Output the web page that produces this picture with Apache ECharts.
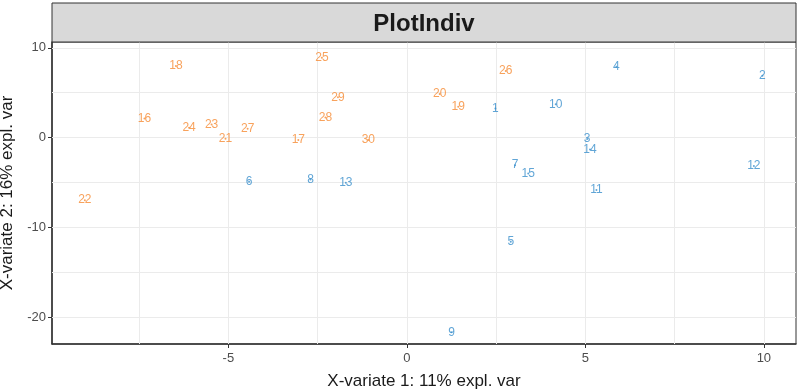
<!DOCTYPE html>
<html>
<head>
<meta charset="utf-8">
<script src="https://cdn.jsdelivr.net/npm/echarts@6/dist/echarts.min.js"></script>
<style>
  html, body { margin: 0; padding: 0; background: #fff; }
  #plotIndiv { width: 800px; height: 392px; }
</style>
</head>
<body>
<div id="plotIndiv"></div>
<script>
// group 1 (blue), samples 1-15
var blueLabels = ["1", "2", "3", "4", "5", "6", "7", "8", "9", "10", "11", "12", "13", "14", "15"];
var blueX = [2.48, 9.96, 5.05, 5.87, 2.91, -4.42, 3.03, -2.70, 1.25, 4.17, 5.31, 9.72, -1.71, 5.13, 3.40];
var blueY = [3.25, 6.89, -0.17, 7.89, -11.6, -4.93, -3.07, -4.66, -21.7, 3.70, -5.85, -3.18, -5.04, -1.32, -3.99];

// group 2 (orange), samples 16-30
var orangeLabels = ["16", "17", "18", "19", "20", "21", "22", "23", "24", "25", "26", "27", "28", "29", "30"];
var orangeX = [-7.35, -3.04, -6.47, 1.44, 0.92, -5.08, -9.02, -5.47, -6.10, -2.38, 2.77, -4.46, -2.28, -1.93, -1.08];
var orangeY = [2.14, -0.28, 7.97, 3.43, 4.85, -0.13, -6.97, 1.47, 1.09, 8.9, 7.41, 0.98, 2.25, 4.48, -0.28];

// axis ticks / grid
var xTicks = [-5, 0, 5, 10];
var yTicks = [-20, -10, 0, 10];
var xGrid = [-7.5, -5, -2.5, 0, 2.5, 5, 7.5, 10];
var yGrid = [-20, -15, -10, -5, 0, 5, 10];

function makePoints(xs, ys, labels) {
  let arr = [];
  for (var i = 0; i < xs.length; i++) {
    arr.push({ value: [xs[i], ys[i]], name: labels[i] });
  }
  return arr;
}

function labelSeries(data, color) {
  return {
    type: "scatter",
    data: data,
    symbol: "circle",
    symbolSize: 2,
    itemStyle: { color: color, opacity: 0.8 },
    label: {
      show: true,
      position: "inside",
      formatter: "{b}",
      color: color,
      fontSize: 12,
      fontFamily: "Liberation Sans"
    },
    silent: true,
    z: 5
  };
}

let gridLines = [];
xGrid.forEach(function(v) { gridLines.push({ xAxis: v }); });
yGrid.forEach(function(v) { gridLines.push({ yAxis: v }); });

let myChart = echarts.init(document.getElementById("plotIndiv"), null, { renderer: "canvas" });
let option = {
  animation: false,
  backgroundColor: "#ffffff",
  textStyle: { fontFamily: "Liberation Sans" },
  grid: {
    left: 52,
    right: 4,
    top: 42,
    bottom: 48,
    containLabel: false,
    outerBoundsMode: "none",
    show: true,
    backgroundColor: "#ffffff",
    borderColor: "#333333",
    borderWidth: 1
  },
  graphic: [
    {
      type: "rect",
      shape: { x: 52, y: 3, width: 744, height: 39 },
      style: { fill: "#d9d9d9", stroke: "#333333", lineWidth: 1 },
      z: 10
    },
    {
      type: "text",
      x: 424,
      y: 24,
      style: {
        text: "PlotIndiv",
        fill: "#1a1a1a",
        font: "bold 24px Liberation Sans",
        align: "center",
        verticalAlign: "middle"
      },
      z: 11
    }
  ],
  xAxis: {
    type: "value",
    min: -9.94,
    max: 10.9,
    name: "X-variate 1: 11% expl. var",
    nameLocation: "middle",
    nameGap: 29,
    nameTextStyle: { color: "#1a1a1a", fontSize: 17, fontFamily: "Liberation Sans" },
    axisLine: { show: true, onZero: false, lineStyle: { color: "#333333", width: 1.5 } },
    axisTick: { show: true, length: 4, customValues: xTicks, lineStyle: { color: "#333333" } },
    axisLabel: { customValues: xTicks, color: "#4d4d4d", fontSize: 13, margin: 8 },
    splitLine: { show: false }
  },
  yAxis: {
    type: "value",
    min: -23,
    max: 10.65,
    name: "X-variate 2: 16% expl. var",
    nameLocation: "middle",
    nameGap: 28,
    nameRotate: 90,
    nameTextStyle: { color: "#1a1a1a", fontSize: 17, fontFamily: "Liberation Sans" },
    axisLine: { show: true, onZero: false, lineStyle: { color: "#333333", width: 1.5 } },
    axisTick: { show: true, length: 4, customValues: yTicks, lineStyle: { color: "#333333" } },
    axisLabel: { customValues: yTicks, color: "#4d4d4d", fontSize: 13, margin: 6 },
    splitLine: { show: false }
  },
  series: [
    {
      type: "scatter",
      data: [],
      silent: true,
      markLine: {
        silent: true,
        symbol: ["none", "none"],
        label: { show: false },
        lineStyle: { color: "#ebebeb", width: 1, type: "solid" },
        data: gridLines
      },
      z: 1
    },
    labelSeries(makePoints(blueX, blueY, blueLabels), "#388ECC"),
    labelSeries(makePoints(orangeX, orangeY, orangeLabels), "#F68B33")
  ]
};
myChart.setOption(option, true);
window.addEventListener("resize", () => {
  myChart.resize();
});
</script>
</body>
</html>
